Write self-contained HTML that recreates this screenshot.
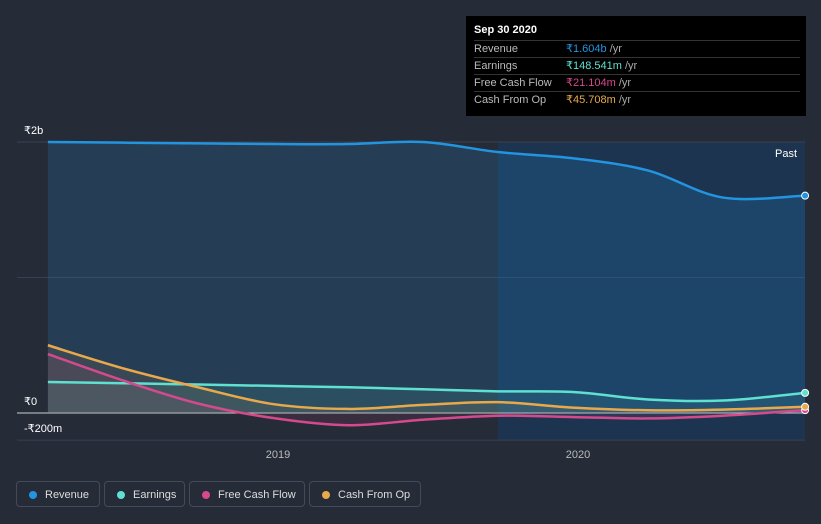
<!DOCTYPE html>
<html><head><meta charset="utf-8"><style>
body{margin:0;background:#262b38;font-family:"Liberation Sans","Noto Sans CJK SC",sans-serif;}
#wrap{position:relative;width:821px;height:524px;overflow:hidden;background:#262b38}
.tip{position:absolute;left:466px;top:16px;width:340px;height:100px;background:#000;color:#fff;font-size:11px}
.tip .row{position:absolute;left:8px;width:326px;height:16px;border-top:1px solid #333;line-height:16px}
.tip .l{position:absolute;left:0;color:#bbb}.tip .v{position:absolute;left:92px}
.leg{position:absolute;top:481px;height:26px;border:1px solid #444a58;border-radius:4px;color:#ddd;font-size:11px;line-height:26px;box-sizing:border-box;padding-left:28px}
.leg i{position:absolute;left:12px;top:9px;width:8px;height:8px;border-radius:50%}
</style></head><body>
<div id="wrap">
<svg id="svg" width="821" height="524" style="position:absolute;left:0;top:0"></svg>
<div class="tip">
<div style="position:absolute;left:8px;top:8px;font-weight:bold">Sep 30 2020</div>
<div class="row" style="top:24px"><span class="l">Revenue</span><span class="v"><span style="color:#2394df">₹1.604b</span> <span style="color:#aaa">/yr</span></span></div>
<div class="row" style="top:41px"><span class="l">Earnings</span><span class="v"><span style="color:#5fe0d0">₹148.541m</span> <span style="color:#aaa">/yr</span></span></div>
<div class="row" style="top:58px"><span class="l">Free Cash Flow</span><span class="v"><span style="color:#d44a8c">₹21.104m</span> <span style="color:#aaa">/yr</span></span></div>
<div class="row" style="top:75px"><span class="l">Cash From Op</span><span class="v"><span style="color:#e8a94c">₹45.708m</span> <span style="color:#aaa">/yr</span></span></div>
</div>
<div class="leg" style="left:16px;width:84px"><i style="background:#2394df"></i>Revenue</div>
<div class="leg" style="left:104px;width:81px"><i style="background:#5fe0d0"></i>Earnings</div>
<div class="leg" style="left:189px;width:116px"><i style="background:#d44a8c"></i>Free Cash Flow</div>
<div class="leg" style="left:309px;width:112px"><i style="background:#e8a94c"></i>Cash From Op</div>
</div>
<script>
const dates=[2018.233,2018.483,2018.733,2018.983,2019.233,2019.483,2019.733,2019.983,2020.233,2020.483,2020.757];
const revenue=[2.0,1.995,1.99,1.985,1.985,2.0,1.926,1.88,1.79,1.59,1.604];
const earnings=[0.229,0.22,0.21,0.2,0.19,0.175,0.16,0.155,0.1,0.092,0.1485];
const fcf=[0.435,0.24,0.07,-0.037,-0.09,-0.05,-0.02,-0.03,-0.04,-0.02,0.0211];
const cfo=[0.5,0.33,0.19,0.066,0.03,0.06,0.08,0.04,0.02,0.025,0.0457];
const yTicks=[2,0,-0.2];const yLabels=["₹2b","₹0","-₹200m"];
const xTicks=[2019,2020];const xLabels=["2019","2020"];
const X=t=>278+(t-2019)*300, Y=v=>413-v*135.5;
const svg=document.getElementById('svg');const NS='http://www.w3.org/2000/svg';
function mk(tag,a,name){const e=document.createElementNS(NS,tag);for(const k in a)e.setAttribute(k,a[k]);


svg.appendChild(e);return e;}
function path(vals){const p=dates.map((d,i)=>[X(d),Y(vals[i])]);let s=`M${p[0][0]},${p[0][1]}`;
for(let i=0;i<p.length-1;i++){const p0=p[i-1]||p[i],p1=p[i],p2=p[i+1],p3=p[i+2]||p2;
s+=` C${p1[0]+(p2[0]-p0[0])/6},${p1[1]+(p2[1]-p0[1])/6} ${p2[0]-(p3[0]-p1[0])/6},${p2[1]-(p3[1]-p1[1])/6} ${p2[0]},${p2[1]}`;}return s;}
mk('rect',{x:X(2019.733),y:Y(2),width:805-X(2019.733),height:Y(-0.2)-Y(2),fill:'#1d3450'},'past-highlight');
yTicks.forEach((v,i)=>{mk('line',{x1:17,x2:805,y1:Y(v),y2:Y(v),stroke:v===0?'#ccc':'#3a4050','stroke-width':1},'gridline');
const t=mk('text',{x:24,y:Y(v)-8,fill:'#fff','font-size':11},'y-tick-label');t.textContent=yLabels[i];});
mk('line',{x1:17,x2:805,y1:Y(1),y2:Y(1),stroke:'#34405a'},'gridline-mid');
xTicks.forEach((v,i)=>{const t=mk('text',{x:X(v),y:458,fill:'#bbb','font-size':11,'text-anchor':'middle'},'x-tick-label');t.textContent=xLabels[i];});
const pt=mk('text',{x:797,y:157,fill:'#fff','font-size':11,'text-anchor':'end'},'past-label');pt.textContent='Past';
const series=[[revenue,'#2394df','revenue'],[earnings,'#5fe0d0','earnings'],[fcf,'#d44a8c','free-cash-flow'],[cfo,'#e8a94c','cash-from-op']];
series.forEach(([v,c,n])=>{const d=path(v);mk('path',{d:d+` L${X(dates[dates.length-1])},${Y(0)} L${X(dates[0])},${Y(0)} Z`,fill:c,'fill-opacity':n==='revenue'?0.18:0.1},n+'-area');});
series.forEach(([v,c,n])=>{mk('path',{d:path(v),fill:'none',stroke:c,'stroke-width':2.5},n+'-line');
mk('circle',{cx:X(dates[dates.length-1]),cy:Y(v[v.length-1]),r:3.5,fill:c,stroke:'#fff','stroke-width':1},n+'-end-point');});
</script>
</body></html>
